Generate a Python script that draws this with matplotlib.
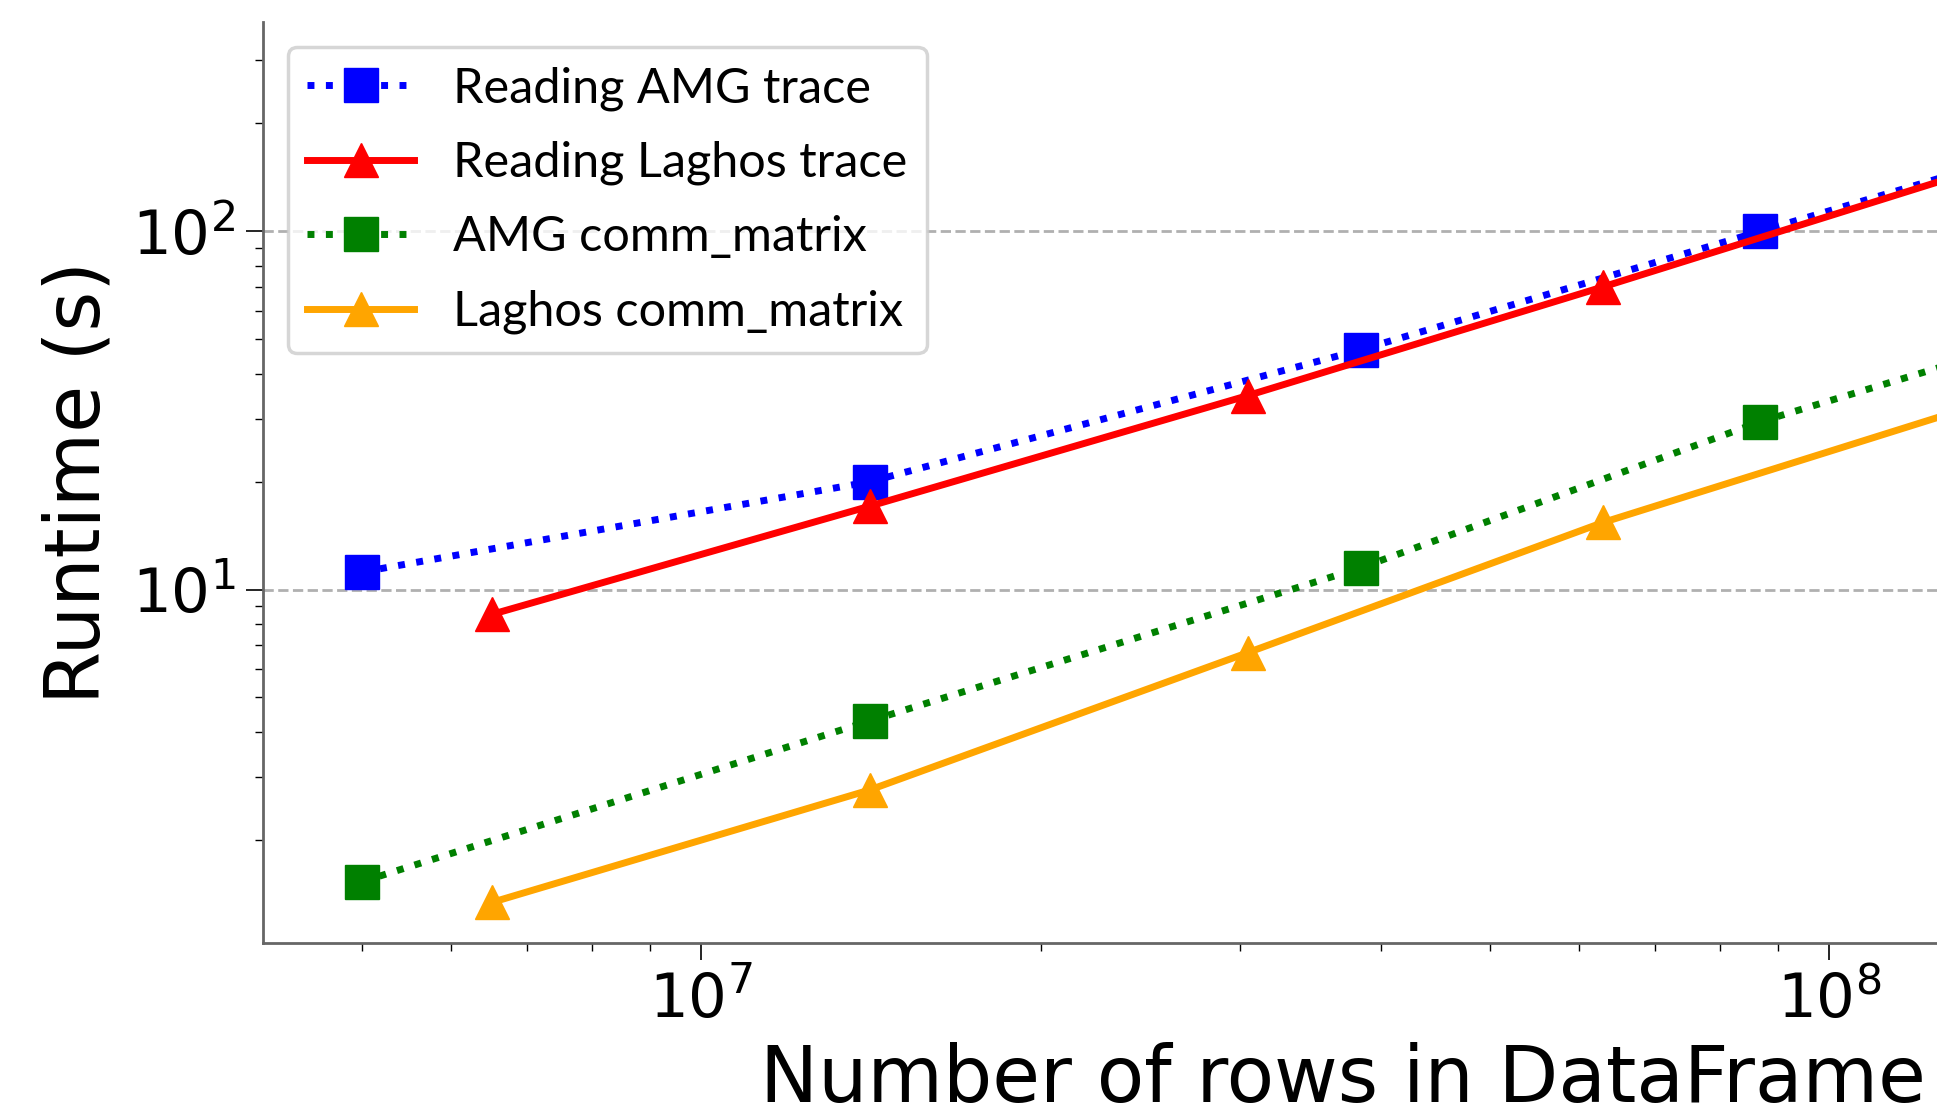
import matplotlib
matplotlib.use("Agg")
import matplotlib.pyplot as plt

# Data
amg_rows = [5.0e6, 1.41e7, 3.84e7, 8.68e7, 2.74e8]
amg_read = [11.2, 20.0, 46.7, 100.0, 292.0]
amg_comm = [1.53, 4.3, 11.5, 29.4, 88.0]

laghos_rows = [6.52e6, 1.41e7, 3.05e7, 6.3e7, 1.3e8]
laghos_read = [8.53, 17.1, 34.8, 70.0, 143.0]
laghos_comm = [1.34, 2.76, 6.67, 15.4, 31.5]

labels = ["Reading AMG trace", "Reading Laghos trace",
          "AMG comm_matrix", "Laghos comm_matrix"]

fig = plt.figure(figsize=(19.37, 11.19), dpi=100)
ax = fig.add_axes([0.136, 0.157, 1.115, 0.823])

lw = 5
ms = 25
ax.plot(amg_rows, amg_read, linestyle=':', color='blue', marker='s', lw=lw, ms=ms, label=labels[0])
ax.plot(laghos_rows, laghos_read, linestyle='-', color='red', marker='^', lw=lw, ms=ms, label=labels[1])
ax.plot(amg_rows, amg_comm, linestyle=':', color='green', marker='s', lw=lw, ms=ms, label=labels[2])
ax.plot(laghos_rows, laghos_comm, linestyle='-', color='orange', marker='^', lw=lw, ms=ms, label=labels[3])

ax.set_xscale('log')
ax.set_yscale('log')
ax.set_xlim(4.09e6, 3.36e8)
ax.set_ylim(1.03, 383)

ax.yaxis.grid(True, which='major', linestyle='--', color='#b0b0b0', linewidth=2)
ax.set_axisbelow(True)

for s in ['top', 'right']:
    ax.spines[s].set_visible(False)
for s in ['left', 'bottom']:
    ax.spines[s].set_color('#666666')
    ax.spines[s].set_linewidth(2)

ax.tick_params(axis='both', which='major', labelsize=44, length=12, width=1.2, pad=8)
ax.tick_params(axis='both', which='minor', length=6, width=1.0)

ax.set_xlabel("Number of rows in DataFrame", fontsize=56, labelpad=8)
ax.set_ylabel("Runtime (s)", fontsize=55, labelpad=12)

leg = ax.legend(loc='upper left', prop={'family': 'Lato', 'size': 35}, framealpha=0.8,
                edgecolor='#cccccc', labelspacing=0.62, handlelength=2.2)
leg.get_frame().set_linewidth(2.5)

fig.savefig("out.png", dpi=100)
